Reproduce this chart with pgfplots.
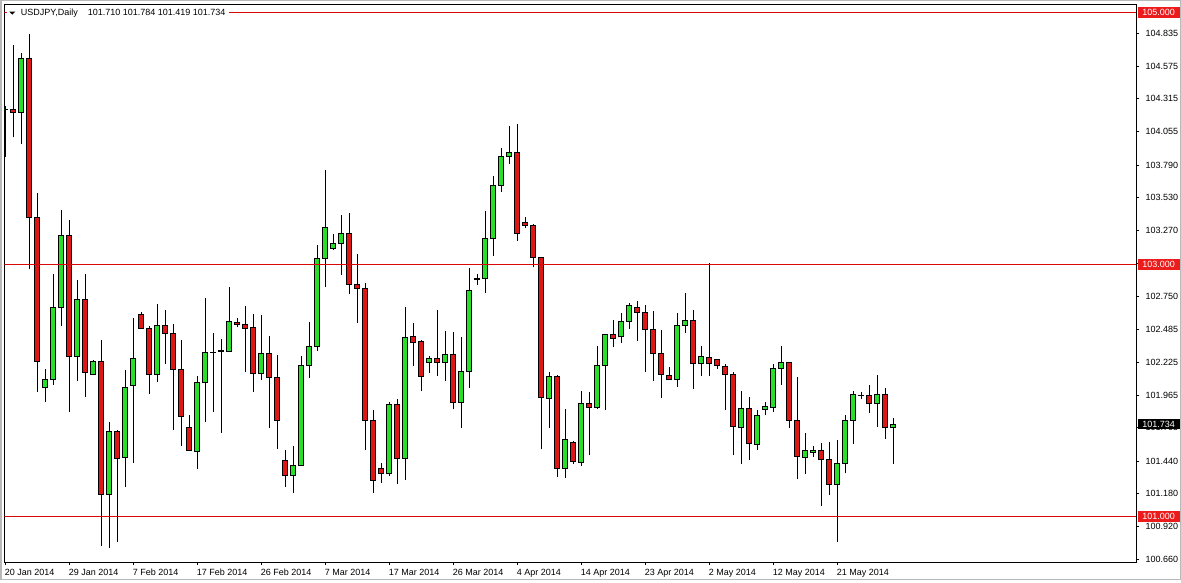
\documentclass[border=0pt]{standalone}
\usepackage{fontspec}
\setmainfont{Liberation Sans}
\usepackage{pgfplots}
\pgfplotsset{compat=1.18}
\usepackage{pgfplotstable}
\definecolor{bull}{RGB}{40,222,40}
\definecolor{bear}{RGB}{222,22,22}
\definecolor{lvl}{RGB}{215,10,10}
\definecolor{boxred}{RGB}{236,28,28}
\newcommand\lbl{\fontsize{9}{10}\selectfont}
\pgfdeclareplotmark{blank}{}
\newdimen\cyo \newdimen\cyh \newdimen\cyl \newdimen\cyc

\pgfplotstableread{
i o h l c
0 104.228 104.258 103.850 104.233
1 104.230 104.740 104.008 104.207
2 104.210 104.678 103.953 104.637
3 104.637 104.828 102.962 103.371
4 103.371 103.569 101.988 102.233
5 102.023 102.173 101.906 102.091
6 102.091 102.921 102.042 102.663
7 102.663 103.433 102.513 103.229
8 103.229 103.356 101.833 102.273
9 102.273 102.880 102.072 102.722
10 102.722 102.921 101.947 102.146
11 102.129 102.240 102.120 102.233
12 102.233 102.399 100.769 101.174
13 101.174 101.751 100.752 101.678
14 101.678 101.688 100.796 101.457
15 101.465 102.165 101.234 102.023
16 102.037 102.576 101.424 102.254
17 102.603 102.627 102.494 102.494
18 102.494 102.513 101.974 102.129
19 102.129 102.690 102.064 102.516
20 102.516 102.635 102.214 102.453
21 102.453 102.527 101.683 102.167
22 102.167 102.399 101.561 101.792
23 101.710 101.805 101.520 101.528
24 101.520 102.118 101.376 102.064
25 102.064 102.731 101.751 102.303
26 102.300 102.453 101.833 102.305
27 102.309 102.412 101.661 102.315
28 102.309 102.820 102.306 102.549
29 102.543 102.575 102.501 102.522
30 102.522 102.667 102.147 102.491
31 102.499 102.610 101.989 102.139
32 102.139 102.596 102.084 102.293
33 102.293 102.430 101.704 102.100
34 102.103 102.280 101.538 101.762
35 101.446 101.525 101.237 101.327
36 101.327 101.559 101.184 101.406
37 101.406 102.272 101.400 102.198
38 102.198 102.543 102.100 102.348
39 102.348 103.156 102.317 103.045
40 103.045 103.750 102.820 103.291
41 103.124 103.243 103.118 103.164
42 103.164 103.394 102.918 103.243
43 103.243 103.409 102.765 102.839
44 102.839 103.085 102.535 102.808
45 102.808 102.852 101.525 101.762
46 101.762 101.842 101.189 101.287
47 101.382 101.422 101.268 101.343
48 101.343 101.907 101.321 101.889
49 101.889 101.929 101.260 101.462
50 101.462 102.665 101.287 102.420
51 102.428 102.533 102.192 102.385
52 102.390 102.404 101.994 102.108
53 102.226 102.272 102.139 102.253
54 102.253 102.636 102.113 102.226
55 102.226 102.475 102.074 102.285
56 102.285 102.462 101.850 101.902
57 101.902 102.422 101.704 102.153
58 102.153 102.971 102.021 102.792
59 102.882 102.923 102.839 102.886
60 102.887 103.425 102.773 103.203
61 103.203 103.705 103.071 103.631
62 103.631 103.926 103.572 103.861
63 103.861 104.101 103.794 103.887
64 103.887 104.119 103.188 103.243
65 103.333 103.380 103.287 103.306
66 103.309 103.319 102.979 103.055
67 103.055 103.063 101.533 101.941
68 101.934 102.145 101.704 102.111
69 102.111 102.127 101.316 101.379
70 101.379 101.850 101.308 101.612
71 101.591 101.599 101.414 101.435
72 101.427 102.000 101.403 101.897
73 101.897 101.987 101.485 101.862
74 101.862 102.351 101.857 102.198
75 102.198 102.451 101.844 102.443
76 102.443 102.557 102.343 102.416
77 102.428 102.612 102.377 102.549
78 102.549 102.694 102.488 102.673
79 102.662 102.713 102.396 102.620
80 102.620 102.681 102.147 102.483
81 102.483 102.633 102.074 102.293
82 102.293 102.483 101.941 102.127
83 102.121 102.184 102.085 102.087
84 102.087 102.614 102.029 102.515
85 102.515 102.773 102.456 102.554
86 102.554 102.641 102.013 102.214
87 102.214 102.351 102.119 102.269
88 102.261 103.010 102.119 102.214
89 102.245 102.248 102.171 102.198
90 102.190 102.214 101.844 102.127
91 102.127 102.145 101.485 101.715
92 101.704 101.994 101.414 101.857
93 101.857 101.947 101.446 101.580
94 101.572 101.844 101.530 101.802
95 101.850 101.910 101.802 101.876
96 101.862 102.214 101.828 102.174
97 102.174 102.351 102.042 102.219
98 102.219 102.222 101.704 101.762
99 101.762 102.105 101.295 101.474
100 101.466 101.664 101.340 101.525
101 101.506 101.559 101.472 101.525
102 101.525 101.585 101.084 101.451
103 101.451 101.593 101.171 101.256
104 101.256 101.606 100.801 101.422
105 101.422 101.802 101.343 101.762
106 101.762 101.994 101.577 101.968
107 101.958 101.989 101.929 101.962
108 101.960 102.042 101.823 101.897
109 101.897 102.127 101.709 101.968
110 101.968 102.016 101.617 101.704
111 101.710 101.784 101.419 101.734
}\usdjpy

\begin{document}
\begin{tikzpicture}[x=1pt,y=1pt]
\useasboundingbox (0,0) rectangle (1181,582);
\fill[white] (0,0) rectangle (1181,582);
\begin{axis}[
  at={(4.5pt,20pt)}, anchor=south west,
  scale only axis, width=1131.5pt, height=558pt,
  xmin=-0.1, xmax=141.34, ymin=100.63889, ymax=105.06746,
  axis line style={line width=1pt, black},
  tick align=outside, major tick length=3pt,
  xtick pos=left, ytick pos=right,
  tick style={black, line width=0.8pt},
  xtick={0,8,...,104},
  xticklabels={20 Jan 2014,29 Jan 2014,7 Feb 2014,17 Feb 2014,26 Feb 2014,7 Mar 2014,17 Mar 2014,26 Mar 2014,4 Apr 2014,14 Apr 2014,23 Apr 2014,2 May 2014,12 May 2014,21 May 2014},
  ytick={100.66,100.92,101.18,101.44,101.705,101.965,102.225,102.485,102.75,103.01,103.27,103.53,103.79,104.055,104.315,104.575,104.835},
  yticklabels={100.660,100.920,101.180,101.440,101.705,101.965,102.225,102.485,102.750,{},103.270,103.530,103.790,104.055,104.315,104.575,104.835},
  xticklabel style={font=\lbl, anchor=north west, inner sep=0pt, xshift=-0.7pt, yshift=-3.7pt},
  yticklabel style={font=\lbl, anchor=west, inner sep=0pt, xshift=6.3pt},
  clip marker paths=true,
]
\addplot[
  only marks, scatter, mark=blank,
  visualization depends on={\thisrow{o} \as \co},
  visualization depends on={\thisrow{h} \as \ch},
  visualization depends on={\thisrow{l} \as \cl},
  visualization depends on={\thisrow{c} \as \cc},
  scatter/@pre marker code/.code={%
    \pgfextracty{\cyo}{\pgfplotspointaxisxy{0}{\co}}%
    \pgfextracty{\cyh}{\pgfplotspointaxisxy{0}{\ch}}%
    \pgfextracty{\cyl}{\pgfplotspointaxisxy{0}{\cl}}%
    \pgfextracty{\cyc}{\pgfplotspointaxisxy{0}{\cc}}%
    \advance\cyo by -\cyc
    \advance\cyh by -\cyc
    \advance\cyl by -\cyc
    \draw[black, line width=1pt] (0pt,\the\cyl) -- (0pt,\the\cyh);
    \ifdim\cyo>0pt
      \filldraw[fill=bear, draw=black, line width=0.9pt] (-2.5pt,0pt) rectangle (2.5pt,\the\cyo);
    \else
      \filldraw[fill=bull, draw=black, line width=0.9pt] (-2.5pt,0pt) rectangle (2.5pt,\the\cyo);
    \fi
  },
  scatter/@post marker code/.code={},
] table[x=i, y=c] {\usdjpy};
\addplot[draw=lvl, color=lvl, line width=1pt, forget plot, mark=none] coordinates {(-0.1,105) (141.34,105)};
\addplot[draw=lvl, color=lvl, line width=1pt, forget plot, mark=none] coordinates {(-0.1,103) (141.34,103)};
\addplot[draw=lvl, color=lvl, line width=1pt, forget plot, mark=none] coordinates {(-0.1,101) (141.34,101)};
\coordinate (L105) at (axis cs:141.34,105);
\coordinate (L103) at (axis cs:141.34,103);
\coordinate (L101) at (axis cs:141.34,101);
\coordinate (Lcur) at (axis cs:141.34,101.734);
\end{axis}
\node[fill=boxred, text=white, inner sep=0pt, minimum width=41.6pt, minimum height=10.5pt, anchor=west, font=\lbl] at ([xshift=1.7pt]L105) {105.000};
\node[fill=boxred, text=white, inner sep=0pt, minimum width=41.6pt, minimum height=10.5pt, anchor=west, font=\lbl] at ([xshift=1.7pt]L103) {103.000};
\node[fill=boxred, text=white, inner sep=0pt, minimum width=41.6pt, minimum height=10.5pt, anchor=west, font=\lbl] at ([xshift=1.7pt]L101) {101.000};
\node[fill=black, text=white, inner sep=0pt, minimum width=41.6pt, minimum height=10.5pt, anchor=west, font=\lbl] at ([xshift=1.7pt]Lcur) {101.734};
% title
\fill[white] (7,565) rectangle (229,576.5);
\fill[black] (9.3,570.3) -- (15.3,570.3) -- (12.3,567.3) -- cycle;
\node[anchor=base west, inner sep=0pt, font=\lbl] at (20.7,566.3) {USDJPY,Daily};
\node[anchor=base west, inner sep=0pt, font=\lbl] at (87.7,566.3) {101.710 101.784 101.419 101.734};
% window frame
\draw[gray!55, line width=1.5pt] (0.75,2.3) rectangle (1180.25,581.25);
\end{tikzpicture}
\end{document}
